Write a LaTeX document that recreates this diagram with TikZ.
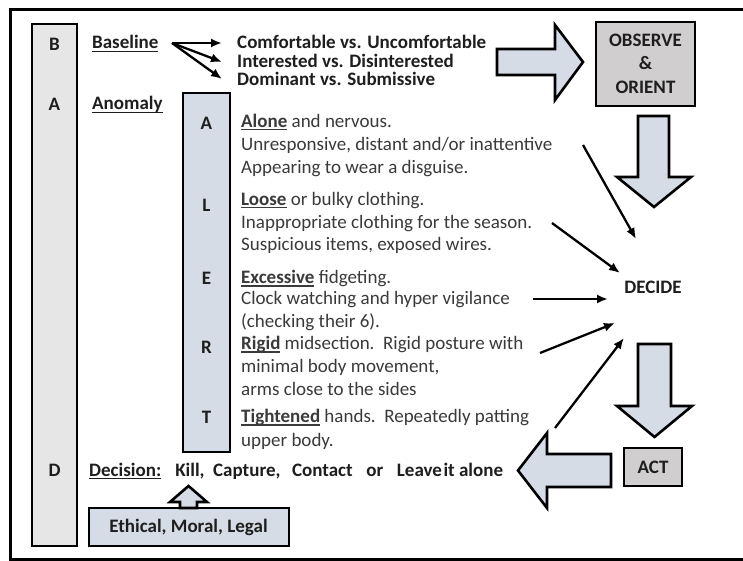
\documentclass[tikz,border=0pt]{standalone}
\usepackage{fontspec}
\setmainfont{Carlito}
\usetikzlibrary{arrows.meta}
\definecolor{bluegray}{HTML}{D6DCE5}
\definecolor{lgray}{HTML}{E7E6E6}
\definecolor{mgray}{HTML}{D0CECE}
\definecolor{txt}{HTML}{3A3A3A}
\definecolor{hdr}{HTML}{1E1E1E}
\newsavebox\ulbox
\newcommand\myul[1]{\sbox\ulbox{#1}\rlap{\rule[-3pt]{\wd\ulbox}{1.4pt}}\usebox\ulbox}
\begin{document}
\begin{tikzpicture}[x=1pt,y=-1pt,
  box/.style={draw=black,line width=2.8pt},
  blk/.style={draw=black,line width=2.6pt,fill=bluegray,line join=miter},
  tx/.style={anchor=base west,inner sep=0pt,font=\fontsize{19}{23}\selectfont,text=txt},
  hd/.style={anchor=base west,inner sep=0pt,font=\fontsize{19}{23}\selectfont\bfseries,text=hdr},
  ctr/.style={anchor=center,inner sep=0pt,align=center,font=\fontsize{19}{23.5}\selectfont\bfseries,text=hdr},
  arr/.style={line width=2.3pt,-{Latex[length=11pt,width=9pt]}}
]
\useasboundingbox (0,0) rectangle (743,561);
\fill[white] (0,0) rectangle (743,561);
% frame
\draw[line width=3pt] (743,10) -- (10,10) -- (10,559) -- (743,559);
% left BAD bar
\draw[box,fill=lgray] (32,24) rectangle (77,546);
\node[ctr] (lB) at (54.5,44) {B};
\node[ctr] (lA) at (54.5,104) {A};
\node[ctr] (lD) at (54.5,470) {D};
% headings
\node[hd] (base) at (92,49) {\myul{Baseline}};
\node[hd] (anom) at (92,110) {\myul{Anomaly}};
\node[hd] (c1) at (237,49) {Comfortable vs. Uncomfortable};
\node[hd] (c2) at (237,68) {Interested vs. Disinterested};
\node[hd] (c3) at (237,86) {Dominant vs. Submissive};
\coordinate (bs) at (172,43);
\coordinate (b1) at (222,43);
\coordinate (b2) at (222,62);
\coordinate (b3) at (222,79);
\draw[arr] (bs) -- (b1);
\draw[arr] (bs) -- (b2);
\draw[arr] (bs) -- (b3);
% ALERT bar
\draw[box,fill=bluegray] (183,93) rectangle (230,452);
\node[ctr] (aA) at (206.5,123) {A};
\node[ctr] (aL) at (206.5,205) {L};
\node[ctr] (aE) at (206.5,278) {E};
\node[ctr] (aR) at (206.5,347) {R};
\node[ctr] (aT) at (206.5,417) {T};
% ALERT text
\node[tx] (t1) at (241,127.5) {\myul{\bfseries Alone} and nervous.};
\node[tx] (t2) at (241,150.5) {Unresponsive, distant and/or inattentive};
\node[tx] (t3) at (241,173.5) {Appearing to wear a disguise.};
\node[tx] (t4) at (241,205.5) {\myul{\bfseries Loose} or bulky clothing.};
\node[tx] (t5) at (241,228.5) {Inappropriate clothing for the season.};
\node[tx] (t6) at (241,250.5) {Suspicious items, exposed wires.};
\node[tx] (t7) at (241,283.5) {\myul{\bfseries Excessive} fidgeting.};
\node[tx] (t8) at (241,304.5) {Clock watching and hyper vigilance};
\node[tx] (t9) at (241,327.5) {(checking their 6).};
\node[tx] (t10) at (241,349.5) {\myul{\bfseries Rigid} midsection.\ \ Rigid posture with};
\node[tx] (t11) at (241,372.5) {minimal body movement,};
\node[tx] (t12) at (241,395.5) {arms close to the sides};
\node[tx] (t13) at (241,422.5) {\myul{\bfseries Tightened} hands.\ \ Repeatedly patting};
\node[tx] (t14) at (241,446.5) {upper body.};
% Decision line
\node[hd] (dec) at (89,476) {\myul{Decision:}\hspace{14pt}Kill,\hspace{8.6pt}Capture,\hspace{11.6pt}Contact\hspace{13.6pt}or\hspace{13.6pt}Leave\hspace{1.5pt}it alone};
% Ethical box and up arrow
\draw[box,fill=bluegray] (89,508) rectangle (289,546);
\node[ctr] (eth) at (188.5,527) {Ethical, Moral, Legal};
\draw[blk] (180,508) -- (180,502) -- (170,502) -- (188.5,486) -- (207,502) -- (197,502) -- (197,508) -- cycle;
% OBSERVE & ORIENT
\draw[box,fill=mgray] (596,22) rectangle (695,106);
\node[ctr] (obs) at (645.5,63.5) {OBSERVE\\\&\\ORIENT};
% big right arrow
\draw[blk] (497,49) -- (555,49) -- (555,25) -- (583,62) -- (555,100) -- (555,75) -- (497,75) -- cycle;
% down arrow 1
\draw[blk] (638,116) -- (669,116) -- (669,177) -- (691,177) -- (654,207) -- (617,177) -- (638,177) -- cycle;
% DECIDE
\node[ctr] (decide) at (653,287) {DECIDE};
% down arrow 2
\draw[blk] (638,344) -- (671,344) -- (671,406) -- (692,406) -- (654.5,437) -- (617,406) -- (638,406) -- cycle;
% ACT
\draw[box,fill=mgray] (624,448) rectangle (682,486);
\node[ctr] (act) at (653,467) {ACT};
% left arrow
\draw[blk] (611,454) -- (547,454) -- (547,433) -- (518,470.5) -- (547,508) -- (547,487) -- (611,487) -- cycle;
% arrows into DECIDE
\coordinate (s1) at (583,145);  \coordinate (e1) at (636,239);
\coordinate (s2) at (552,223);  \coordinate (e2) at (620,273);
\coordinate (s3) at (533,299);  \coordinate (e3) at (608,299);
\coordinate (s4) at (540,353);  \coordinate (e4) at (615,323);
\coordinate (s5) at (555,428);  \coordinate (e5) at (624,338);
\draw[arr] (s1) -- (e1);
\draw[arr] (s2) -- (e2);
\draw[arr] (s3) -- (e3);
\draw[arr] (s4) -- (e4);
\draw[arr] (s5) -- (e5);
\end{tikzpicture}
\end{document}
